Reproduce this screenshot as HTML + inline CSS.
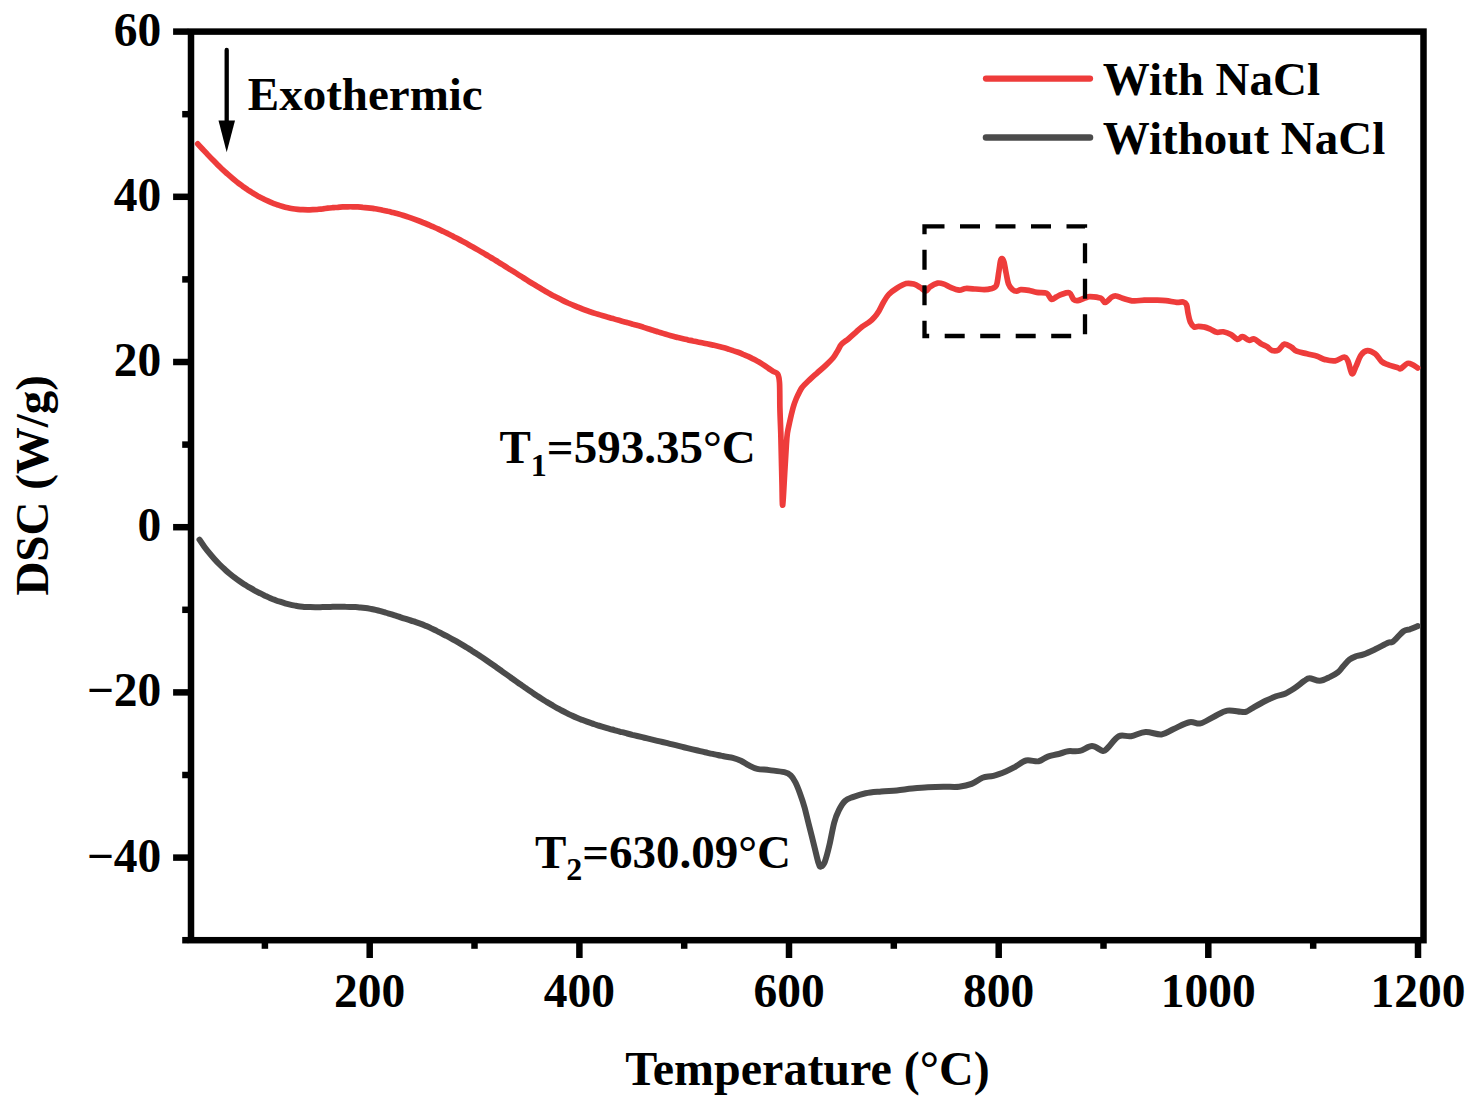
<!DOCTYPE html>
<html><head><meta charset="utf-8"><title>DSC curves</title>
<style>
html,body{margin:0;padding:0;background:#fff;}
body{width:1476px;height:1110px;overflow:hidden;}
svg{display:block;}
</style></head>
<body>
<svg width="1476" height="1110" viewBox="0 0 1476 1110">
<rect width="1476" height="1110" fill="#fff"/>
<rect x="191.0" y="31.6" width="1232.5" height="908.6" fill="none" stroke="#000" stroke-width="6.5"/>
<line x1="182.2" y1="940.2" x2="188.2" y2="940.2" stroke="#000" stroke-width="6.5"/>
<line x1="173.1" y1="857.6" x2="188.2" y2="857.6" stroke="#000" stroke-width="6.5"/>
<text x="161.3" y="871.6" text-anchor="end" font-size="47.5" font-family="'Liberation Serif', 'Times New Roman', serif" font-weight="bold">−40</text>
<line x1="182.2" y1="775.0" x2="188.2" y2="775.0" stroke="#000" stroke-width="6.5"/>
<line x1="173.1" y1="692.4" x2="188.2" y2="692.4" stroke="#000" stroke-width="6.5"/>
<text x="161.3" y="706.4" text-anchor="end" font-size="47.5" font-family="'Liberation Serif', 'Times New Roman', serif" font-weight="bold">−20</text>
<line x1="182.2" y1="609.8" x2="188.2" y2="609.8" stroke="#000" stroke-width="6.5"/>
<line x1="173.1" y1="527.2" x2="188.2" y2="527.2" stroke="#000" stroke-width="6.5"/>
<text x="161.3" y="541.2" text-anchor="end" font-size="47.5" font-family="'Liberation Serif', 'Times New Roman', serif" font-weight="bold">0</text>
<line x1="182.2" y1="444.6" x2="188.2" y2="444.6" stroke="#000" stroke-width="6.5"/>
<line x1="173.1" y1="362.0" x2="188.2" y2="362.0" stroke="#000" stroke-width="6.5"/>
<text x="161.3" y="376.0" text-anchor="end" font-size="47.5" font-family="'Liberation Serif', 'Times New Roman', serif" font-weight="bold">20</text>
<line x1="182.2" y1="279.4" x2="188.2" y2="279.4" stroke="#000" stroke-width="6.5"/>
<line x1="173.1" y1="196.8" x2="188.2" y2="196.8" stroke="#000" stroke-width="6.5"/>
<text x="161.3" y="210.8" text-anchor="end" font-size="47.5" font-family="'Liberation Serif', 'Times New Roman', serif" font-weight="bold">40</text>
<line x1="182.2" y1="114.2" x2="188.2" y2="114.2" stroke="#000" stroke-width="6.5"/>
<line x1="173.1" y1="31.6" x2="188.2" y2="31.6" stroke="#000" stroke-width="6.5"/>
<text x="161.3" y="45.6" text-anchor="end" font-size="47.5" font-family="'Liberation Serif', 'Times New Roman', serif" font-weight="bold">60</text>
<line x1="264.9" y1="943.0" x2="264.9" y2="948.8" stroke="#000" stroke-width="6.5"/>
<line x1="369.7" y1="943.0" x2="369.7" y2="958.0" stroke="#000" stroke-width="6.5"/>
<text x="369.7" y="1007.2" text-anchor="middle" font-size="47.5" font-family="'Liberation Serif', 'Times New Roman', serif" font-weight="bold">200</text>
<line x1="474.5" y1="943.0" x2="474.5" y2="948.8" stroke="#000" stroke-width="6.5"/>
<line x1="579.4" y1="943.0" x2="579.4" y2="958.0" stroke="#000" stroke-width="6.5"/>
<text x="579.4" y="1007.2" text-anchor="middle" font-size="47.5" font-family="'Liberation Serif', 'Times New Roman', serif" font-weight="bold">400</text>
<line x1="684.2" y1="943.0" x2="684.2" y2="948.8" stroke="#000" stroke-width="6.5"/>
<line x1="789.0" y1="943.0" x2="789.0" y2="958.0" stroke="#000" stroke-width="6.5"/>
<text x="789.0" y="1007.2" text-anchor="middle" font-size="47.5" font-family="'Liberation Serif', 'Times New Roman', serif" font-weight="bold">600</text>
<line x1="893.8" y1="943.0" x2="893.8" y2="948.8" stroke="#000" stroke-width="6.5"/>
<line x1="998.7" y1="943.0" x2="998.7" y2="958.0" stroke="#000" stroke-width="6.5"/>
<text x="998.7" y="1007.2" text-anchor="middle" font-size="47.5" font-family="'Liberation Serif', 'Times New Roman', serif" font-weight="bold">800</text>
<line x1="1103.5" y1="943.0" x2="1103.5" y2="948.8" stroke="#000" stroke-width="6.5"/>
<line x1="1208.3" y1="943.0" x2="1208.3" y2="958.0" stroke="#000" stroke-width="6.5"/>
<text x="1208.3" y="1007.2" text-anchor="middle" font-size="47.5" font-family="'Liberation Serif', 'Times New Roman', serif" font-weight="bold">1000</text>
<line x1="1313.2" y1="943.0" x2="1313.2" y2="948.8" stroke="#000" stroke-width="6.5"/>
<line x1="1418.0" y1="943.0" x2="1418.0" y2="958.0" stroke="#000" stroke-width="6.5"/>
<text x="1418.0" y="1007.2" text-anchor="middle" font-size="47.5" font-family="'Liberation Serif', 'Times New Roman', serif" font-weight="bold">1200</text>
<text x="807.4" y="1085.4" text-anchor="middle" font-size="48" font-family="'Liberation Serif', 'Times New Roman', serif" font-weight="bold">Temperature (°C)</text>
<text transform="translate(48 485.3) rotate(-90)" x="0" y="0" text-anchor="middle" font-size="47" font-family="'Liberation Serif', 'Times New Roman', serif" font-weight="bold">DSC (W/g)</text>
<path d="M199.5 539.7 C200.3 540.9 202.9 544.7 204.5 546.9 C206.2 549.2 207.9 551.3 209.6 553.4 C211.2 555.4 212.9 557.3 214.6 559.2 C216.3 561.1 217.9 562.8 219.6 564.5 C221.3 566.2 223.0 567.8 224.7 569.3 C226.3 570.9 228.0 572.3 229.7 573.7 C231.4 575.1 233.0 576.4 234.7 577.7 C236.4 579.0 238.1 580.2 239.7 581.3 C241.4 582.5 243.1 583.6 244.8 584.7 C246.5 585.7 248.1 586.7 249.8 587.7 C251.5 588.7 253.2 589.7 254.8 590.6 C256.5 591.5 258.2 592.4 259.9 593.2 C261.6 594.1 263.2 594.9 264.9 595.7 C266.6 596.4 268.3 597.2 269.9 597.9 C271.6 598.6 273.3 599.3 275.0 599.9 C276.6 600.6 278.3 601.2 280.0 601.7 C281.7 602.3 283.4 602.8 285.0 603.3 C286.7 603.8 288.4 604.2 290.1 604.6 C291.7 605.0 293.4 605.3 295.1 605.6 C296.8 605.9 298.4 606.2 300.1 606.4 C301.8 606.6 303.5 606.7 305.2 606.9 C306.8 607.0 308.5 607.1 310.2 607.1 C311.9 607.2 313.5 607.2 315.2 607.2 C316.9 607.2 318.6 607.2 320.2 607.2 C321.9 607.1 323.6 607.1 325.3 607.0 C327.0 607.0 328.6 607.0 330.3 606.9 C332.0 606.9 333.7 606.8 335.3 606.8 C337.0 606.8 338.7 606.8 340.4 606.7 C342.0 606.7 343.7 606.7 345.4 606.8 C347.1 606.8 348.8 606.8 350.4 606.9 C352.1 607.0 353.8 607.0 355.5 607.1 C357.1 607.2 358.8 607.4 360.5 607.5 C362.2 607.7 363.9 607.9 365.5 608.1 C367.2 608.3 368.9 608.6 370.6 608.9 C372.2 609.2 373.9 609.5 375.6 609.9 C377.3 610.3 378.9 610.7 380.6 611.1 C382.3 611.6 384.0 612.1 385.7 612.6 C387.3 613.0 389.0 613.6 390.7 614.1 C392.4 614.6 394.0 615.2 395.7 615.7 C397.4 616.2 399.1 616.8 400.7 617.3 C402.4 617.9 404.1 618.4 405.8 618.9 C407.5 619.5 409.1 620.0 410.8 620.5 C412.5 621.0 414.2 621.6 415.8 622.1 C417.5 622.7 419.2 623.3 420.9 623.9 C422.5 624.5 424.2 625.2 425.9 625.9 C427.6 626.5 429.3 627.3 430.9 628.1 C432.6 628.9 434.3 629.7 436.0 630.5 C437.6 631.4 439.3 632.2 441.0 633.1 C442.7 634.0 444.3 634.9 446.0 635.7 C447.7 636.6 449.4 637.5 451.1 638.5 C452.7 639.4 454.4 640.3 456.1 641.2 C457.8 642.2 459.4 643.1 461.1 644.1 C462.8 645.1 464.5 646.1 466.1 647.1 C467.8 648.1 469.5 649.2 471.2 650.2 C472.9 651.3 474.5 652.4 476.2 653.4 C477.9 654.5 479.6 655.7 481.2 656.8 C482.9 657.9 484.6 659.0 486.3 660.2 C488.0 661.4 489.6 662.5 491.3 663.7 C493.0 664.9 494.7 666.0 496.3 667.2 C498.0 668.4 499.7 669.6 501.4 670.8 C503.0 672.0 504.7 673.2 506.4 674.4 C508.1 675.6 509.8 676.8 511.4 678.0 C513.1 679.2 514.8 680.4 516.5 681.6 C518.1 682.8 519.8 684.0 521.5 685.1 C523.2 686.3 524.8 687.5 526.5 688.6 C528.2 689.8 529.9 691.0 531.6 692.1 C533.2 693.2 534.9 694.3 536.6 695.5 C538.3 696.6 539.9 697.6 541.6 698.7 C543.3 699.8 545.0 700.8 546.6 701.9 C548.3 702.9 550.0 703.9 551.7 704.9 C553.4 705.9 555.0 706.9 556.7 707.8 C558.4 708.7 560.1 709.7 561.7 710.5 C563.4 711.4 565.1 712.3 566.8 713.1 C568.4 714.0 570.1 714.8 571.8 715.5 C573.5 716.3 575.2 717.1 576.8 717.8 C578.5 718.5 580.2 719.2 581.9 719.8 C583.5 720.5 585.2 721.1 586.9 721.7 C588.6 722.3 590.3 722.9 591.9 723.4 C593.6 724.0 595.3 724.5 597.0 725.1 C598.6 725.6 600.3 726.1 602.0 726.6 C603.7 727.1 605.3 727.6 607.0 728.1 C608.7 728.6 610.4 729.0 612.1 729.5 C613.7 730.0 615.4 730.4 617.1 730.9 C618.8 731.3 620.4 731.8 622.1 732.2 C623.8 732.6 625.5 733.1 627.1 733.5 C628.8 733.9 630.5 734.3 632.2 734.8 C633.9 735.2 635.5 735.6 637.2 736.0 C638.9 736.4 640.6 736.8 642.2 737.2 C643.9 737.6 645.6 738.0 647.3 738.4 C648.9 738.8 650.6 739.2 652.3 739.6 C654.0 740.0 655.7 740.4 657.3 740.8 C659.0 741.2 660.7 741.6 662.4 742.0 C664.0 742.4 665.7 742.8 667.4 743.2 C669.1 743.6 670.7 744.0 672.4 744.4 C674.1 744.8 675.8 745.2 677.5 745.6 C679.1 746.0 680.8 746.4 682.5 746.8 C684.2 747.3 685.8 747.7 687.5 748.1 C689.2 748.5 690.9 748.9 692.6 749.3 C694.2 749.7 695.9 750.1 697.6 750.5 C699.3 750.9 700.9 751.3 702.6 751.7 C704.3 752.1 706.0 752.4 707.6 752.8 C709.3 753.2 711.0 753.6 712.7 753.9 C714.4 754.3 716.0 754.7 717.7 755.0 C719.4 755.4 721.1 755.7 722.7 756.0 C724.4 756.4 726.1 756.7 727.8 757.0 C729.4 757.3 730.6 757.3 732.8 757.9 C735.0 758.5 738.2 759.5 740.9 760.7 C743.6 762.0 746.3 764.0 749.0 765.4 C751.7 766.8 753.8 768.0 757.2 768.8 C760.6 769.6 764.9 769.5 769.4 770.1 C773.9 770.7 780.7 771.3 784.3 772.2 C787.9 773.1 788.9 773.7 790.8 775.4 C792.7 777.1 794.0 779.5 795.5 782.5 C797.0 785.5 798.4 789.1 799.9 793.2 C801.4 797.3 803.0 801.8 804.5 807.3 C806.0 812.8 807.6 819.8 809.2 826.0 C810.8 832.2 812.3 838.5 813.9 844.7 C815.5 850.9 817.4 859.8 818.6 863.4 C819.8 867.0 819.9 866.8 820.9 866.5 C821.9 866.2 823.4 865.4 824.8 861.8 C826.2 858.2 828.0 851.2 829.5 844.7 C831.0 838.2 832.6 828.6 834.1 822.9 C835.6 817.2 837.0 814.0 838.8 810.4 C840.6 806.8 842.7 803.2 845.0 801.0 C847.3 798.8 849.4 798.4 852.8 797.1 C856.2 795.8 860.9 794.2 865.6 793.2 C870.3 792.2 876.0 791.9 881.2 791.4 C886.4 790.9 891.6 790.9 896.8 790.4 C902.0 789.9 907.1 789.1 912.3 788.6 C917.5 788.1 922.7 787.6 927.9 787.3 C933.1 787.0 938.3 786.8 943.5 786.7 C948.7 786.6 954.4 787.2 959.1 786.7 C963.8 786.2 967.7 785.4 971.6 783.9 C975.5 782.4 978.9 779.1 982.5 777.7 C986.1 776.4 989.5 776.8 993.4 775.8 C997.3 774.8 1002.2 772.9 1005.8 771.4 C1009.4 769.9 1011.8 768.6 1015.2 766.8 C1018.6 765.0 1022.2 761.4 1026.1 760.5 C1030.0 759.6 1035.0 761.9 1038.6 761.3 C1042.2 760.6 1044.3 757.9 1047.9 756.6 C1051.5 755.3 1057.0 754.4 1060.4 753.5 C1063.8 752.6 1065.0 751.6 1068.2 751.2 C1071.4 750.8 1075.8 751.8 1079.8 750.9 C1083.8 750.0 1088.2 746.0 1092.0 746.0 C1095.8 746.0 1100.3 750.6 1102.9 750.9 C1105.5 751.2 1105.2 750.2 1107.8 747.8 C1110.4 745.3 1114.9 738.1 1118.8 736.2 C1122.7 734.3 1126.5 736.9 1131.0 736.2 C1135.5 735.5 1140.5 732.3 1145.6 732.0 C1150.7 731.7 1156.8 734.9 1161.5 734.4 C1166.2 733.9 1169.0 730.9 1173.7 728.9 C1178.4 726.9 1185.0 723.1 1189.5 722.2 C1194.0 721.3 1196.4 724.3 1200.5 723.4 C1204.6 722.5 1209.4 718.8 1213.9 716.7 C1218.4 714.6 1222.8 711.4 1227.3 710.6 C1231.8 709.8 1237.5 711.6 1240.7 711.8 C1243.9 712.0 1244.4 712.4 1246.4 711.7 C1248.4 711.0 1249.7 709.6 1252.9 707.8 C1256.1 706.0 1261.9 702.7 1265.7 700.8 C1269.5 698.9 1272.8 697.5 1276.0 696.3 C1279.2 695.1 1282.1 695.0 1285.1 693.7 C1288.1 692.4 1290.9 690.6 1294.1 688.5 C1297.3 686.4 1301.8 682.5 1304.4 680.8 C1307.0 679.1 1306.9 678.2 1309.5 678.2 C1312.1 678.2 1316.4 681.0 1319.8 680.8 C1323.2 680.6 1327.1 678.3 1330.1 676.9 C1333.1 675.5 1335.6 674.1 1337.8 672.4 C1340.0 670.7 1341.1 668.7 1343.0 666.6 C1344.9 664.5 1347.2 661.3 1349.4 659.6 C1351.6 657.9 1353.5 657.2 1355.9 656.3 C1358.3 655.4 1360.4 655.6 1363.6 654.4 C1366.8 653.2 1371.1 651.2 1375.2 649.3 C1379.3 647.4 1385.0 644.1 1388.0 642.8 C1391.0 641.5 1390.6 643.4 1393.2 641.5 C1395.8 639.6 1400.7 633.2 1403.5 631.2 C1406.3 629.2 1407.5 630.1 1409.9 629.3 C1412.3 628.4 1416.4 626.6 1417.7 626.1" fill="none" stroke="#4B4B4B" stroke-width="6" stroke-linejoin="round" stroke-linecap="round"/>
<path d="M197.7 143.8 C198.5 144.7 201.0 147.4 202.7 149.2 C204.4 151.0 206.0 152.8 207.7 154.6 C209.4 156.4 211.0 158.1 212.7 159.8 C214.4 161.5 216.0 163.2 217.7 164.9 C219.4 166.5 221.0 168.1 222.7 169.7 C224.4 171.2 226.1 172.8 227.7 174.2 C229.4 175.7 231.1 177.2 232.7 178.5 C234.4 179.9 236.1 181.3 237.7 182.6 C239.4 183.8 241.1 185.1 242.7 186.3 C244.4 187.5 246.1 188.6 247.7 189.8 C249.4 190.9 251.1 191.9 252.7 193.0 C254.4 194.0 256.1 195.0 257.7 195.9 C259.4 196.8 261.1 197.7 262.7 198.5 C264.4 199.4 266.1 200.2 267.7 200.9 C269.4 201.7 271.1 202.4 272.8 203.1 C274.4 203.7 276.1 204.4 277.8 204.9 C279.4 205.5 281.1 206.0 282.8 206.5 C284.4 207.0 286.1 207.4 287.8 207.7 C289.4 208.1 291.1 208.4 292.8 208.7 C294.4 209.0 296.1 209.2 297.8 209.4 C299.4 209.6 301.1 209.7 302.8 209.7 C304.4 209.8 306.1 209.8 307.8 209.8 C309.4 209.8 311.1 209.7 312.8 209.6 C314.4 209.5 316.1 209.4 317.8 209.3 C319.5 209.1 321.1 208.9 322.8 208.8 C324.5 208.6 326.1 208.4 327.8 208.2 C329.5 208.1 331.1 207.9 332.8 207.7 C334.5 207.6 336.1 207.4 337.8 207.3 C339.5 207.1 341.1 207.0 342.8 206.9 C344.5 206.8 346.1 206.8 347.8 206.8 C349.5 206.7 351.1 206.7 352.8 206.8 C354.5 206.8 356.1 206.8 357.8 206.9 C359.5 207.0 361.1 207.1 362.8 207.3 C364.5 207.4 366.2 207.6 367.8 207.8 C369.5 208.0 371.2 208.2 372.8 208.4 C374.5 208.7 376.2 208.9 377.8 209.2 C379.5 209.5 381.2 209.8 382.8 210.2 C384.5 210.5 386.2 210.9 387.8 211.3 C389.5 211.6 391.2 212.1 392.8 212.5 C394.5 212.9 396.2 213.4 397.8 213.8 C399.5 214.3 401.2 214.8 402.8 215.3 C404.5 215.9 406.2 216.4 407.8 216.9 C409.5 217.5 411.2 218.1 412.8 218.7 C414.5 219.3 416.2 219.9 417.9 220.5 C419.5 221.1 421.2 221.8 422.9 222.5 C424.5 223.1 426.2 223.8 427.9 224.5 C429.5 225.2 431.2 225.9 432.9 226.7 C434.5 227.4 436.2 228.2 437.9 228.9 C439.5 229.7 441.2 230.5 442.9 231.3 C444.5 232.1 446.2 232.9 447.9 233.7 C449.5 234.5 451.2 235.4 452.9 236.2 C454.5 237.1 456.2 237.9 457.9 238.8 C459.5 239.7 461.2 240.6 462.9 241.5 C464.6 242.4 466.2 243.3 467.9 244.2 C469.6 245.2 471.2 246.1 472.9 247.0 C474.6 248.0 476.2 248.9 477.9 249.9 C479.6 250.9 481.2 251.8 482.9 252.8 C484.6 253.8 486.2 254.8 487.9 255.8 C489.6 256.8 491.2 257.8 492.9 258.8 C494.6 259.8 496.2 260.8 497.9 261.8 C499.6 262.9 501.2 263.9 502.9 264.9 C504.6 266.0 506.2 267.0 507.9 268.1 C509.6 269.1 511.3 270.2 512.9 271.2 C514.6 272.3 516.3 273.3 517.9 274.4 C519.6 275.4 521.3 276.5 522.9 277.5 C524.6 278.6 526.3 279.6 527.9 280.7 C529.6 281.7 531.3 282.8 532.9 283.8 C534.6 284.8 536.3 285.8 537.9 286.8 C539.6 287.8 541.3 288.8 542.9 289.8 C544.6 290.8 546.3 291.7 547.9 292.7 C549.6 293.6 551.3 294.6 552.9 295.5 C554.6 296.4 556.3 297.2 558.0 298.1 C559.6 299.0 561.3 299.8 563.0 300.6 C564.6 301.4 566.3 302.2 568.0 303.0 C569.6 303.7 571.3 304.5 573.0 305.2 C574.6 305.9 576.3 306.6 578.0 307.2 C579.6 307.9 581.3 308.6 583.0 309.2 C584.6 309.8 586.3 310.4 588.0 311.0 C589.6 311.6 591.3 312.1 593.0 312.7 C594.6 313.2 596.3 313.8 598.0 314.3 C599.6 314.8 601.3 315.3 603.0 315.8 C604.6 316.3 606.3 316.8 608.0 317.2 C609.7 317.7 611.3 318.2 613.0 318.6 C614.7 319.1 616.3 319.6 618.0 320.0 C619.7 320.5 621.3 320.9 623.0 321.4 C624.7 321.8 626.3 322.3 628.0 322.8 C629.7 323.2 631.3 323.7 633.0 324.2 C634.7 324.6 636.3 325.1 638.0 325.6 C639.7 326.1 641.3 326.6 643.0 327.1 C644.7 327.7 646.3 328.2 648.0 328.7 C649.7 329.2 651.3 329.8 653.0 330.3 C654.7 330.8 656.4 331.4 658.0 331.9 C659.7 332.4 661.4 332.9 663.0 333.4 C664.7 333.9 666.4 334.4 668.0 334.9 C669.7 335.4 671.4 335.9 673.0 336.3 C674.7 336.8 676.4 337.2 678.0 337.6 C679.7 338.0 681.4 338.4 683.0 338.8 C684.7 339.2 686.4 339.5 688.0 339.9 C689.7 340.3 691.4 340.6 693.0 341.0 C694.7 341.3 696.4 341.6 698.0 342.0 C699.7 342.3 701.4 342.7 703.1 343.0 C704.7 343.3 706.4 343.7 708.1 344.0 C709.7 344.4 711.4 344.8 713.1 345.1 C714.7 345.5 716.4 345.9 718.1 346.3 C719.7 346.7 721.4 347.2 723.1 347.6 C724.7 348.0 726.4 348.5 728.1 349.0 C729.7 349.5 731.4 350.0 733.1 350.6 C734.7 351.1 736.4 351.7 738.1 352.3 C739.7 352.9 741.4 353.6 743.1 354.3 C744.7 354.9 746.4 355.7 748.1 356.4 C749.8 357.2 751.4 358.0 753.1 358.9 C754.8 359.7 756.4 360.6 758.1 361.6 C759.8 362.5 761.4 363.6 763.1 364.6 C764.8 365.7 766.4 366.8 768.1 368.0 C769.8 369.1 771.5 370.4 773.1 371.4 C774.7 372.4 776.5 372.0 777.6 373.9 C778.7 375.8 779.1 376.9 779.5 382.6 C779.9 388.3 779.7 399.5 779.9 407.9 C780.1 416.3 780.5 424.7 780.8 433.1 C781.0 441.5 781.2 450.0 781.4 458.4 C781.6 466.8 781.8 475.8 782.0 483.6 C782.2 491.4 782.2 507.1 782.7 505.0 C783.2 502.9 784.2 480.9 784.8 471.0 C785.4 461.1 785.9 452.1 786.3 445.8 C786.7 439.5 786.8 437.3 787.4 433.1 C788.0 428.9 789.1 424.7 790.0 420.5 C790.9 416.3 792.0 411.6 793.0 407.9 C794.0 404.2 795.2 401.2 796.3 398.5 C797.4 395.8 798.5 393.7 799.5 391.8 C800.5 389.9 800.8 389.1 802.2 387.3 C803.6 385.6 805.5 383.7 808.0 381.3 C810.5 378.9 814.0 375.8 817.0 373.1 C820.0 370.4 823.3 367.7 826.0 365.1 C828.7 362.6 831.2 360.2 833.2 357.8 C835.2 355.4 836.3 352.9 837.7 350.7 C839.1 348.5 839.6 346.4 841.4 344.4 C843.2 342.4 846.2 340.7 848.6 338.7 C851.0 336.7 853.5 334.3 855.8 332.3 C858.0 330.3 859.9 328.4 862.1 326.7 C864.4 325.0 867.2 323.7 869.3 322.1 C871.4 320.5 873.1 318.8 874.7 316.9 C876.4 315.0 877.7 312.9 879.2 310.5 C880.7 308.1 881.9 305.0 883.5 302.3 C885.1 299.6 886.6 296.7 888.8 294.4 C890.9 292.1 893.5 290.3 896.4 288.5 C899.3 286.7 903.2 284.3 906.1 283.6 C909.0 282.9 911.4 283.5 913.7 284.1 C916.1 284.7 918.2 286.2 920.2 287.4 C922.2 288.6 924.0 291.3 925.6 291.2 C927.2 291.1 928.0 288.2 930.0 286.9 C932.0 285.5 935.2 283.6 937.6 283.1 C940.0 282.6 941.9 283.4 944.1 284.1 C946.3 284.8 948.1 286.4 950.6 287.4 C953.1 288.4 956.7 289.9 959.2 290.1 C961.7 290.3 963.0 288.7 965.7 288.5 C968.4 288.3 972.4 288.8 975.5 289.0 C978.6 289.2 981.7 289.6 984.2 289.6 C986.7 289.6 988.6 289.5 990.6 288.8 C992.6 288.1 994.9 288.2 996.3 285.5 C997.6 282.8 998.0 276.5 998.7 272.5 C999.4 268.5 999.9 263.6 1000.4 261.3 C1000.9 259.0 1001.4 258.5 1002.0 258.6 C1002.6 258.7 1003.3 259.8 1004.0 262.1 C1004.7 264.4 1005.2 268.9 1006.0 272.5 C1006.8 276.1 1007.4 281.0 1008.5 283.9 C1009.6 286.8 1011.1 288.4 1012.5 289.6 C1013.9 290.8 1015.2 291.2 1016.6 291.2 C1018.0 291.2 1018.7 289.7 1020.7 289.6 C1022.7 289.5 1026.1 289.9 1028.8 290.4 C1031.5 290.9 1033.9 291.9 1036.9 292.4 C1039.9 292.9 1044.3 292.1 1046.7 293.3 C1049.1 294.5 1049.9 298.7 1051.5 299.3 C1053.1 299.9 1054.8 297.7 1056.4 296.9 C1058.0 296.1 1059.1 295.2 1061.3 294.5 C1063.5 293.8 1067.4 292.0 1069.4 292.8 C1071.4 293.6 1072.1 298.0 1073.5 299.3 C1074.9 300.6 1075.6 300.9 1077.6 300.6 C1079.6 300.3 1083.6 298.4 1085.7 297.7 C1087.8 297.0 1087.5 296.5 1090.0 296.6 C1092.5 296.7 1098.3 297.2 1100.8 298.2 C1103.3 299.2 1103.4 302.7 1105.2 302.5 C1107.0 302.3 1109.9 298.2 1111.7 297.1 C1113.5 296.0 1114.2 295.8 1116.0 296.0 C1117.8 296.2 1119.6 297.4 1122.5 298.2 C1125.4 299.0 1129.8 300.6 1133.4 300.9 C1137.0 301.2 1140.6 300.2 1144.2 300.1 C1147.8 300.0 1151.4 300.0 1155.0 300.1 C1158.6 300.2 1162.3 300.2 1165.9 300.6 C1169.5 301.0 1173.8 302.1 1176.7 302.3 C1179.6 302.5 1181.6 301.6 1183.2 302.0 C1184.8 302.4 1185.7 302.8 1186.5 304.7 C1187.3 306.6 1187.5 310.5 1188.1 313.4 C1188.7 316.3 1189.3 319.8 1190.3 322.0 C1191.3 324.2 1192.8 326.2 1194.1 326.9 C1195.4 327.6 1196.8 326.4 1198.4 326.4 C1200.0 326.4 1201.8 326.4 1203.8 326.9 C1205.8 327.3 1208.1 328.2 1210.3 329.1 C1212.5 330.0 1214.6 331.9 1216.8 332.3 C1219.0 332.8 1220.9 331.4 1223.3 331.8 C1225.7 332.2 1228.6 333.2 1230.9 334.5 C1233.2 335.8 1235.6 339.0 1237.4 339.4 C1239.2 339.8 1240.7 337.1 1241.8 336.7 C1242.9 336.3 1242.7 336.4 1243.9 337.0 C1245.1 337.6 1247.3 340.0 1249.0 340.3 C1250.7 340.6 1252.3 338.5 1254.2 339.0 C1256.1 339.5 1258.5 342.2 1260.6 343.5 C1262.7 344.8 1265.1 345.5 1267.0 346.7 C1268.9 347.9 1270.3 350.1 1272.2 350.6 C1274.1 351.1 1276.6 351.0 1278.6 349.9 C1280.6 348.8 1282.2 344.5 1284.4 344.1 C1286.6 343.7 1289.5 346.1 1291.5 347.3 C1293.5 348.5 1294.0 350.1 1296.6 351.2 C1299.2 352.3 1303.6 352.9 1307.0 353.8 C1310.4 354.7 1314.2 355.3 1317.2 356.3 C1320.2 357.3 1322.0 358.9 1325.0 359.6 C1328.0 360.4 1332.1 361.2 1335.3 360.8 C1338.5 360.4 1342.2 356.9 1344.3 357.0 C1346.4 357.1 1346.8 358.7 1348.1 361.5 C1349.4 364.3 1350.7 372.8 1352.0 373.7 C1353.3 374.6 1354.4 369.7 1355.9 366.6 C1357.4 363.5 1359.1 357.8 1361.0 355.1 C1362.9 352.4 1365.0 350.8 1367.4 350.6 C1369.8 350.4 1372.8 352.0 1375.2 353.8 C1377.6 355.6 1379.5 359.7 1381.6 361.5 C1383.7 363.3 1385.2 363.6 1388.0 364.7 C1390.8 365.8 1396.1 367.2 1398.3 367.9 C1400.5 368.5 1399.4 369.4 1400.9 368.6 C1402.4 367.9 1405.5 364.0 1407.4 363.4 C1409.3 362.8 1410.8 363.9 1412.5 364.7 C1414.2 365.4 1416.8 367.4 1417.7 367.9" fill="none" stroke="#EE3C3B" stroke-width="5.7" stroke-linejoin="round" stroke-linecap="round"/>
<path d="M924.5 226.3 H1085 V336 H924.5 Z" fill="none" stroke="#000" stroke-width="4.3" stroke-dasharray="20 15.5"/>
<line x1="226.7" y1="50" x2="226.7" y2="125" stroke="#000" stroke-width="4.3" stroke-linecap="round"/>
<path d="M218.5 120.5 L235 120.5 L226.7 152.3 Z" fill="#000"/>
<text x="247.8" y="110.1" font-size="47" font-family="'Liberation Serif', 'Times New Roman', serif" font-weight="bold">Exothermic</text>
<line x1="986" y1="78.6" x2="1090" y2="78.6" stroke="#EE3C3B" stroke-width="6.3" stroke-linecap="round"/>
<line x1="986" y1="137.6" x2="1090" y2="137.6" stroke="#4B4B4B" stroke-width="6.5" stroke-linecap="round"/>
<text x="1102.8" y="94.5" font-size="47" font-family="'Liberation Serif', 'Times New Roman', serif" font-weight="bold">With NaCl</text>
<text x="1102.8" y="153.8" font-size="47" font-family="'Liberation Serif', 'Times New Roman', serif" font-weight="bold">Without NaCl</text>
<text x="499.5" y="463.1" font-size="47" font-family="'Liberation Serif', 'Times New Roman', serif" font-weight="bold">T<tspan font-size="32" dy="12.5">1</tspan><tspan dy="-12.5">=593.35°C</tspan></text>
<text x="534.9" y="867.7" font-size="47" font-family="'Liberation Serif', 'Times New Roman', serif" font-weight="bold">T<tspan font-size="32" dy="12.5">2</tspan><tspan dy="-12.5">=630.09°C</tspan></text>
</svg>
</body></html>
